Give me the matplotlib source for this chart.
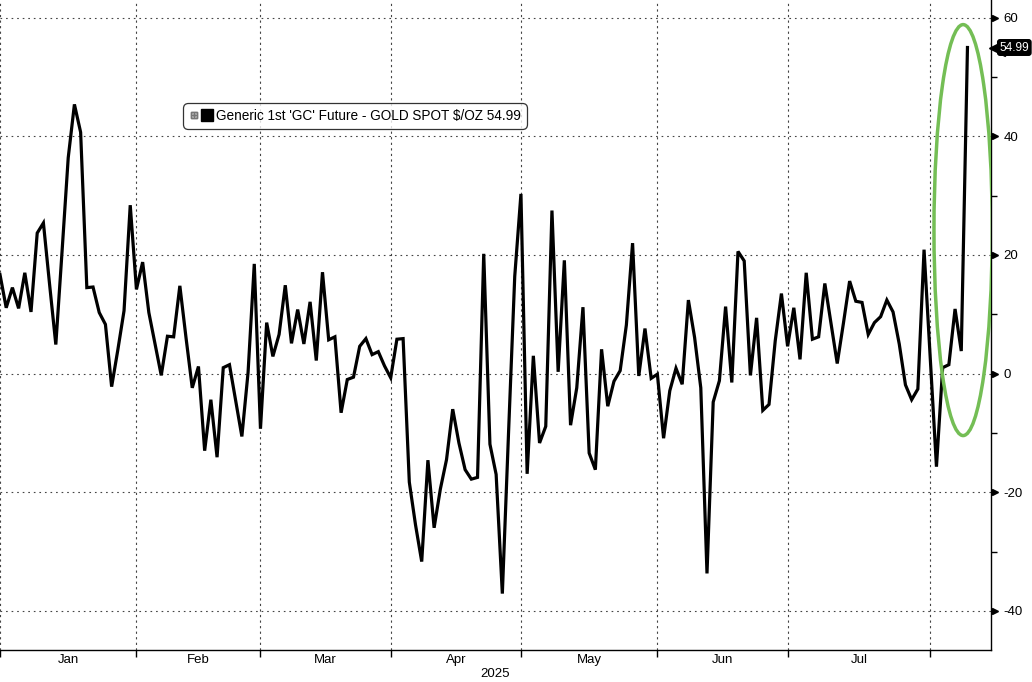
import matplotlib
matplotlib.use("Agg")
import matplotlib.pyplot as plt
import matplotlib.transforms as mtransforms
from matplotlib.lines import Line2D
from matplotlib.patches import Ellipse
from matplotlib.legend_handler import HandlerTuple

plt.rcParams['font.family'] = ['Liberation Sans', 'DejaVu Sans']

# Generic 1st 'GC' Future - GOLD SPOT $/OZ, daily (trading days), 2025
spread = [
    16.7, 11.1, 14.5, 11.0, 17.0, 10.4, 23.7, 25.4, 15.0, 4.9,
    20.5, 36.4, 45.4, 40.7, 14.5, 14.6, 10.3, 8.3, -2.2, 4.0,
    10.6, 28.4, 14.2, 18.8, 10.3, 5.0, -0.3, 6.3, 6.2, 14.8,
    6.0, -2.4, 1.2, -13.0, -4.4, -14.1, 1.0, 1.5, -4.5, -10.6,
    0.2, 18.5, -9.3, 8.6, 2.9, 6.6, 14.9, 5.1, 10.8, 5.0,
    12.1, 2.2, 17.1, 5.7, 6.2, -6.6, -1.0, -0.6, 4.6, 5.9,
    3.2, 3.7, 1.3, -0.7, 5.8, 5.9, -18.3, -25.5, -31.7, -14.6,
    -26.0, -19.5, -14.5, -6.0, -11.7, -16.2, -17.8, -17.5, 20.2, -11.9,
    -17.0, -37.1, -10.0, 16.4, 30.3, -16.9, 3.0, -11.7, -8.9, 27.5,
    0.3, 19.1, -8.7, -2.4, 11.2, -13.4, -16.2, 4.1, -5.5, -1.3,
    0.5, 8.2, 22.0, -0.4, 7.6, -0.8, -0.1, -10.9, -2.9, 0.9,
    -1.8, 12.4, 6.1, -2.4, -33.7, -4.8, -1.2, 11.3, -1.5, 20.6,
    19.0, -0.3, 9.4, -6.2, -5.2, 5.5, 13.5, 4.6, 11.1, 2.4,
    17.0, 5.8, 6.2, 15.2, 8.5, 1.7, 8.5, 15.6, 12.2, 12.0,
    6.6, 8.6, 9.6, 12.4, 10.4, 5.0, -1.9, -4.4, -2.6, 20.9,
    2.6, -15.7, 1.0, 1.5, 10.9, 3.8, 54.99,
]
last_value = spread[-1]

# first trading day index of each month (Jan .. Aug)
month_starts = [0, 22, 42, 63, 84, 106, 127, 150]
month_names = ['Jan', 'Feb', 'Mar', 'Apr', 'May', 'Jun', 'Jul']
year_label = '2025'
y_major = [-40, -20, 0, 20, 40, 60]
y_minor = [-30, -10, 10, 30, 50]

legend_label = "Generic 1st 'GC' Future - GOLD SPOT $/OZ 54.99"

fig = plt.figure(figsize=(10.32, 6.82), dpi=100)
ax = fig.add_axes([0.0, 0.047, 0.9603, 0.953])

x = list(range(len(spread)))
ax.plot(x, spread, color='black', linewidth=2.3, solid_joinstyle='miter')

ax.set_xlim(0, 159.8)
ax.set_ylim(-46.6, 63.0)

# grid
for v in y_major:
    ax.axhline(v, color='#444444', linewidth=0.8, linestyle=(0, (1.5, 3.5)), zorder=0)
for m in month_starts:
    ax.axvline(m, color='#444444', linewidth=0.8, linestyle=(0, (2, 3)), zorder=0)

# spines
for s in ['top', 'left']:
    ax.spines[s].set_visible(False)
ax.spines['bottom'].set_linewidth(1.0)
ax.spines['right'].set_linewidth(1.0)

# x axis: month boundary ticks, names centred between them
ax.set_xticks(month_starts)
ax.set_xticklabels([])
ax.tick_params(axis='x', which='major', direction='out', length=5, width=1, color='black')
mid = [(month_starts[i] + month_starts[i + 1]) / 2 for i in range(len(month_names))]
ax.set_xticks(mid, minor=True)
ax.set_xticklabels(month_names, minor=True, fontsize=9.5)
ax.tick_params(axis='x', which='minor', length=0, pad=3)
ax.text(0.5, -0.0375, year_label, transform=ax.transAxes, ha='center', va='center', fontsize=9.5)

# y axis on the right with triangle markers
ax.yaxis.tick_right()
ax.set_yticks(y_major)
ax.set_yticklabels([str(v) for v in y_major], fontsize=9.5)
ax.set_yticks(y_minor, minor=True)
ax.tick_params(axis='y', which='major', length=0, pad=9)
ax.tick_params(axis='y', which='minor', direction='out', length=4, width=1, color='black')
trans = mtransforms.blended_transform_factory(ax.transAxes, ax.transData)
ax.plot([1.004] * len(y_major), y_major, linestyle='none', marker='>', markersize=5,
        color='black', transform=trans, clip_on=False)

# last value tag
ax.plot([1.006], [last_value], linestyle='none', marker='<', markersize=11,
        color='black', transform=trans, clip_on=False)
ax.text(1.0085, last_value, f'{last_value:.2f}', transform=trans, ha='left', va='center',
        fontsize=8.6, color='white',
        bbox=dict(boxstyle='round,pad=0.15,rounding_size=0.2', fc='black', ec='black'))

# green highlight ellipse round the latest spike
ax.add_patch(Ellipse((155.3, 24.2), width=9.4, height=69.3, fill=False,
                     edgecolor='#74be55', linewidth=2.5, zorder=3))

# legend
icon = Line2D([], [], linestyle='none', marker=r'$\boxplus$', markersize=5, color='#777777')
square = Line2D([], [], linestyle='none', marker='s', markersize=9, color='black')
leg = ax.legend([(icon, square)], [legend_label],
                handler_map={tuple: HandlerTuple(ndivide=None, pad=0.3)},
                loc='upper left', bbox_to_anchor=(0.1847, 0.8415), borderaxespad=0,
                fontsize=9.8, frameon=True, fancybox=True, handlelength=1.6,
                handletextpad=0.4, borderpad=0.45)
leg.get_frame().set_edgecolor('black')
leg.get_frame().set_linewidth(0.9)
leg.get_frame().set_boxstyle('round,pad=0,rounding_size=0.4')

fig.savefig('out.png', dpi=100)
